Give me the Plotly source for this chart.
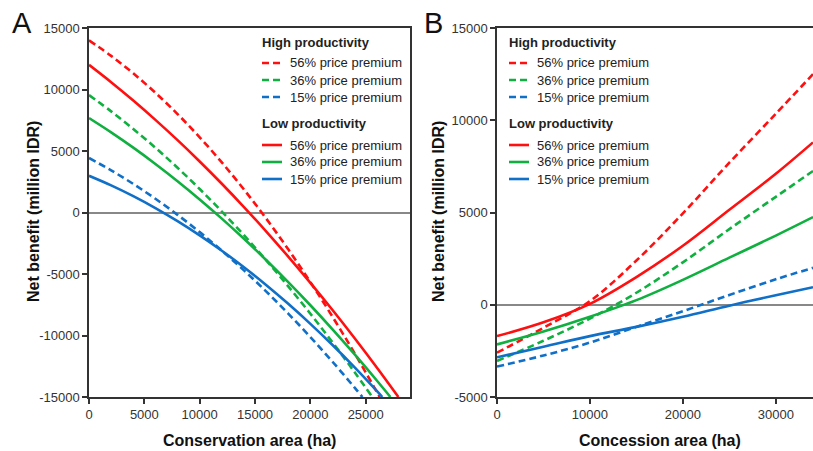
import plotly.graph_objects as go

# ---------------- Panel A: Conservation area (ha) ----------------
a_high56_x = [0, 2000, 4000, 6000, 8000, 10000, 12000, 14000, 16000, 18000, 20000, 22000, 24000, 26260]
a_high56_y = [14000, 12733, 11311, 9735, 8002, 6114, 4071, 1872, -482, -2991, -5656, -8476, -11452, -15000]
a_high36_x = [0, 2000, 4000, 6000, 8000, 10000, 12000, 14000, 16000, 18000, 20000, 22000, 24000, 25600]
a_high36_y = [9550, 8221, 6793, 5264, 3637, 1908, 79, -1848, -3876, -6004, -8232, -10560, -12987, -15000]
a_high15_x = [0, 2000, 4000, 6000, 8000, 10000, 12000, 14000, 16000, 18000, 20000, 22000, 24000, 24700]
a_high15_y = [4430, 3426, 2321, 1116, -190, -1595, -3100, -4707, -6413, -8220, -10126, -12133, -14240, -15000]
a_low56_x = [0, 2000, 4000, 6000, 8000, 10000, 12000, 14000, 16000, 18000, 20000, 22000, 24000, 26000, 27950]
a_low56_y = [12000, 10591, 9101, 7531, 5881, 4149, 2337, 444, -1528, -3582, -5716, -7931, -10226, -12601, -15000]
a_low36_x = [0, 2000, 4000, 6000, 8000, 10000, 12000, 14000, 16000, 18000, 20000, 22000, 24000, 26000, 27230]
a_low36_y = [7680, 6516, 5272, 3949, 2546, 1064, -497, -2139, -3860, -5661, -7540, -9499, -11538, -13657, -15000]
a_low15_x = [0, 2000, 4000, 6000, 8000, 10000, 12000, 14000, 16000, 18000, 20000, 22000, 24000, 26000, 26500]
a_low15_y = [2990, 2209, 1334, 365, -699, -1856, -3107, -4453, -5893, -7426, -9054, -10776, -12592, -14502, -15000]

a_xticks = [0, 5000, 10000, 15000, 20000, 25000]
a_xtick_labels = ["0", "5000", "10000", "15000", "20000", "25000"]
a_yticks = [-15000, -10000, -5000, 0, 5000, 10000, 15000]
a_ytick_labels = ["-15000", "-10000", "-5000", "0", "5000", "10000", "15000"]

# ---------------- Panel B: Concession area (ha) ----------------
b_x = [0, 5000, 10000, 15000, 20000, 25000, 30000, 34000]
b_high56_y = [-2600, -1250, 200, 2400, 4950, 7700, 10350, 12500]
b_low56_y = [-1700, -950, 50, 1500, 3200, 5150, 7100, 8800]
b_high36_y = [-3050, -1950, -750, 650, 2300, 4100, 5850, 7250]
b_low36_y = [-2150, -1450, -650, 250, 1350, 2550, 3750, 4750]
b_high15_y = [-3350, -2750, -2050, -1200, -350, 530, 1380, 2000]
b_low15_y = [-2850, -2280, -1700, -1200, -650, -50, 520, 950]

b_xticks = [0, 10000, 20000, 30000]
b_xtick_labels = ["0", "10000", "20000", "30000"]
b_yticks = [-5000, 0, 5000, 10000, 15000]
b_ytick_labels = ["-5000", "0", "5000", "10000", "15000"]

premium_labels = ["56% price premium", "36% price premium", "15% price premium"]
group_titles = ["High productivity", "Low productivity"]

RED, GREEN, BLUE = "#ff1010", "#10b040", "#1070c8"
DASH = "7px,4px"
LW = 2.6

W, H = 813, 451
def px(x):
    return x / W
def py(y):
    return 1 - y / H

fig = go.Figure()

a_series = [
    (a_high56_x, a_high56_y, RED, DASH), (a_high36_x, a_high36_y, GREEN, DASH), (a_high15_x, a_high15_y, BLUE, DASH),
    (a_low56_x, a_low56_y, RED, "solid"), (a_low36_x, a_low36_y, GREEN, "solid"), (a_low15_x, a_low15_y, BLUE, "solid"),
]
for xs, ys, c, d in a_series:
    fig.add_trace(go.Scatter(x=xs, y=ys, mode="lines", line=dict(color=c, width=LW, dash=d, shape="spline"),
                             xaxis="x", yaxis="y", showlegend=False, hoverinfo="skip"))

b_series = [
    (b_high56_y, RED, DASH), (b_high36_y, GREEN, DASH), (b_high15_y, BLUE, DASH),
    (b_low56_y, RED, "solid"), (b_low36_y, GREEN, "solid"), (b_low15_y, BLUE, "solid"),
]
for ys, c, d in b_series:
    fig.add_trace(go.Scatter(x=b_x, y=ys, mode="lines", line=dict(color=c, width=LW, dash=d, shape="spline"),
                             xaxis="x2", yaxis="y2", showlegend=False, hoverinfo="skip"))

tickfont = dict(family="Liberation Sans, Arial, sans-serif", size=13, color="#333")
axis_common = dict(showgrid=False, ticks="outside", ticklen=5, tickwidth=1.5, tickcolor="#333",
                   showline=True, linecolor="#333", linewidth=1.5, tickfont=tickfont, tickmode="array")

y_top, y_bot = 28, 397
fig.update_layout(
    width=W, height=H, margin=dict(l=0, r=0, t=0, b=0),
    paper_bgcolor="white", plot_bgcolor="white", template="none",
    xaxis=dict(domain=[px(89), px(410)], range=[0, 29000], tickvals=a_xticks, ticktext=a_xtick_labels,
               mirror=True, zeroline=False, anchor="y", **axis_common),
    yaxis=dict(domain=[py(y_bot), py(y_top)], range=[-15000, 15000], tickvals=a_yticks, ticktext=a_ytick_labels,
               mirror=True, zeroline=True, zerolinecolor="#888", zerolinewidth=1.5, anchor="x", **axis_common),
    xaxis2=dict(domain=[px(497), 1.0], range=[0, 34000], tickvals=b_xticks, ticktext=b_xtick_labels,
                mirror=True, zeroline=False, anchor="y2", **axis_common),
    yaxis2=dict(domain=[py(y_bot), py(y_top)], range=[-5000, 15000], tickvals=b_yticks, ticktext=b_ytick_labels,
                mirror=False, zeroline=True, zerolinecolor="#888", zerolinewidth=1.5, anchor="x2", **axis_common),
)

ann = []
shapes = []
title_font = dict(family="Liberation Sans, Arial, sans-serif", size=16, color="#111")
# panel letters
for letter, lx in [("A", 22), ("B", 433)]:
    ann.append(dict(text=letter, x=px(lx), y=py(23), xref="paper", yref="paper", showarrow=False,
                    font=dict(family="Liberation Sans, Arial, sans-serif", size=29, color="#111"),
                    xanchor="center", yanchor="middle"))
# axis titles
for xc, txt in [(249, "Conservation area (ha)"), (660, "Concession area (ha)")]:
    ann.append(dict(text="<b>%s</b>" % txt, x=px(xc), y=py(440), xref="paper", yref="paper", showarrow=False,
                    font=title_font, xanchor="center", yanchor="middle"))
for xc in [33, 438]:
    ann.append(dict(text="<b>Net benefit (million IDR)</b>", x=px(xc), y=py(212), xref="paper", yref="paper",
                    showarrow=False, font=title_font, textangle=-90, xanchor="center", yanchor="middle"))

# legends (drawn manually)
leg_font = dict(family="Liberation Sans, Arial, sans-serif", size=13, color="#222")
colors = [RED, GREEN, BLUE]
for tx0 in [260, 507]:
    line_x0 = tx0 + 2
    line_x1 = tx0 + 22
    text_x = tx0 + 28
    for gi, (gy, dash) in enumerate([(42, DASH), (124, "solid")]):
        ann.append(dict(text="<b>%s</b>" % group_titles[gi], x=px(tx0), y=py(gy), xref="paper", yref="paper",
                        showarrow=False, font=leg_font, xanchor="left", yanchor="middle"))
        for i in range(3):
            yy = gy + 21 + 17 * i
            shapes.append(dict(type="line", xref="paper", yref="paper", x0=px(line_x0), x1=px(line_x1),
                               y0=py(yy), y1=py(yy), line=dict(color=colors[i], width=LW, dash=dash)))
            ann.append(dict(text=premium_labels[i], x=px(text_x), y=py(yy), xref="paper", yref="paper",
                            showarrow=False, font=leg_font, xanchor="left", yanchor="middle"))

fig.update_layout(annotations=ann, shapes=shapes)
fig.write_html("out.html", config={"displayModeBar": False},
               post_script="document.body.style.margin='0';document.body.style.overflow='hidden';")
